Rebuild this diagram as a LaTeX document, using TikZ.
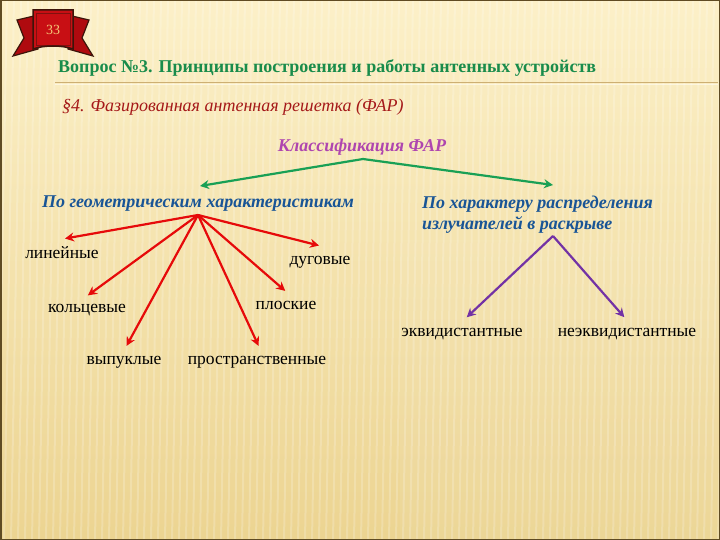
\documentclass[tikz,border=0pt]{standalone}
\usepackage{fontspec}
\setmainfont{Liberation Serif}
\usetikzlibrary{arrows.meta,calc}
\definecolor{bgtop}{RGB}{252,240,200}
\definecolor{bgbot}{RGB}{236,212,145}
\definecolor{ttlgreen}{RGB}{25,140,75}
\definecolor{secred}{RGB}{165,25,25}
\definecolor{clspurple}{RGB}{175,70,175}
\definecolor{hdrblue}{RGB}{25,85,150}
\definecolor{arrred}{RGB}{230,10,10}
\definecolor{arrgreen}{RGB}{25,160,85}
\definecolor{arrpurple}{RGB}{115,50,165}
\definecolor{ribred}{RGB}{200,15,20}
\definecolor{ribwing}{RGB}{175,10,15}
\definecolor{ribdark}{RGB}{60,20,10}
\definecolor{framebrown}{RGB}{95,75,35}
\definecolor{rulebrown}{RGB}{205,175,115}
\tikzset{
  leaf/.style={inner sep=0pt, font=\fontsize{17.5}{20}\selectfont, text=black},
  hdr/.style={inner sep=0pt, font=\fontsize{18}{21}\selectfont\bfseries\itshape, text=hdrblue, align=left},
  redarr/.style={draw=arrred, line width=2.2pt, -{Stealth[length=9pt,width=9pt]}, shorten >=1pt},
  purarr/.style={draw=arrpurple, line width=2.2pt, -{Stealth[length=9pt,width=9pt]}, shorten >=1pt},
  grnarr/.style={draw=arrgreen, line width=2.2pt, -{Stealth[length=9pt,width=9pt]}},
}
\begin{document}
\begin{tikzpicture}[x=1pt,y=-1pt]
\useasboundingbox (0,0) rectangle (720,540);
% background
\shade[top color=bgtop, bottom color=bgbot] (0,0) rectangle (720,540);
\foreach \i in {0,7,...,735} {
  \draw[white, opacity=0.2, line width=2pt] (\i,0) -- (\i-10,540);
}
\fill[white, opacity=0.05] (400,240) rectangle (720,540);
\draw[framebrown, line width=1.5pt] (0.75,0.75) rectangle (719.25,539.25);
% badge ribbon
\fill[ribwing, draw=ribdark, line width=1.2pt] (34,16) -- (17,20) -- (24,38) -- (13,56) -- (38,49) -- cycle;
\fill[ribwing, draw=ribdark, line width=1.2pt] (72,16) -- (89,20) -- (82,38) -- (93,56) -- (68,49) -- cycle;
\fill[ribred, draw=ribdark, line width=1.5pt] (33,10) -- (73,10) -- (73,49) .. controls (62,45) and (44,45) .. (33,49) -- cycle;
\draw[ribdark, opacity=0.5, line width=0.6pt] (36,13) rectangle (70,45);
\node[inner sep=0pt, font=\fontsize{14}{15}\selectfont, text={rgb,255:red,245;green,200;blue,120}] (badge) at (53,30) {33};
% title
\node[inner sep=0pt, font=\fontsize{18}{20}\selectfont\bfseries, text=ttlgreen, anchor=west] (title) at (58,68) {Вопрос №3. Принципы построения и работы антенных устройств};
\draw[rulebrown, line width=1pt] (55,83) -- (718,83);
\draw[white, opacity=0.5, line width=1pt] (55,84.5) -- (718,84.5);
\node[inner sep=0pt, font=\fontsize{18}{20}\selectfont\itshape, text=secred, anchor=west] (sec) at (62,107) {§4. Фазированная антенная решетка (ФАР)};
% classification
\node[inner sep=0pt, font=\fontsize{18}{20}\selectfont\bfseries\itshape, text=clspurple] (cls) at (362,147) {Классификация ФАР};
\node[hdr] (geo) at (198,204) {По геометрическим характеристикам};
\node[hdr, anchor=north west] (chr) at (422,196) {По характеру распределения\\излучателей в раскрыве};
\coordinate (clsv) at (363,159);
\coordinate (geot) at (200,186);
\coordinate (chrt) at (553,185);
\draw[grnarr] (clsv) -- (geot);
\draw[grnarr] (clsv) -- (chrt);
% geometric leaves
\coordinate (geov) at (198,215);
\node[leaf] (lin) at (62,253) {линейные};
\node[leaf] (dug) at (320,262) {дуговые};
\node[leaf] (kol) at (87,310) {кольцевые};
\node[leaf] (plo) at (286,305) {плоские};
\node[leaf] (vyp) at (124,362) {выпуклые};
\node[leaf] (pro) at (257,362) {пространственные};
\draw[redarr] (geov) -- ([xshift=2pt,yshift=8pt]lin.north);
\draw[redarr] (geov) -- ([yshift=10pt]dug.north);
\draw[redarr] (geov) -- ([yshift=8pt]kol.north);
\draw[redarr] (geov) -- ([yshift=9pt]plo.north);
\draw[redarr] (geov) -- ([xshift=2pt,yshift=9pt]vyp.north);
\draw[redarr] (geov) -- ([xshift=2pt,yshift=9pt]pro.north);
% distribution leaves
\coordinate (chrv) at (553,236);
\node[leaf] (ekv) at (462,334) {эквидистантные};
\node[leaf] (nek) at (627,334) {неэквидистантные};
\draw[purarr] (chrv) -- ([xshift=4pt,yshift=10pt]ekv.north);
\draw[purarr] (chrv) -- ([xshift=-2pt,yshift=10pt]nek.north);
\end{tikzpicture}
\end{document}
